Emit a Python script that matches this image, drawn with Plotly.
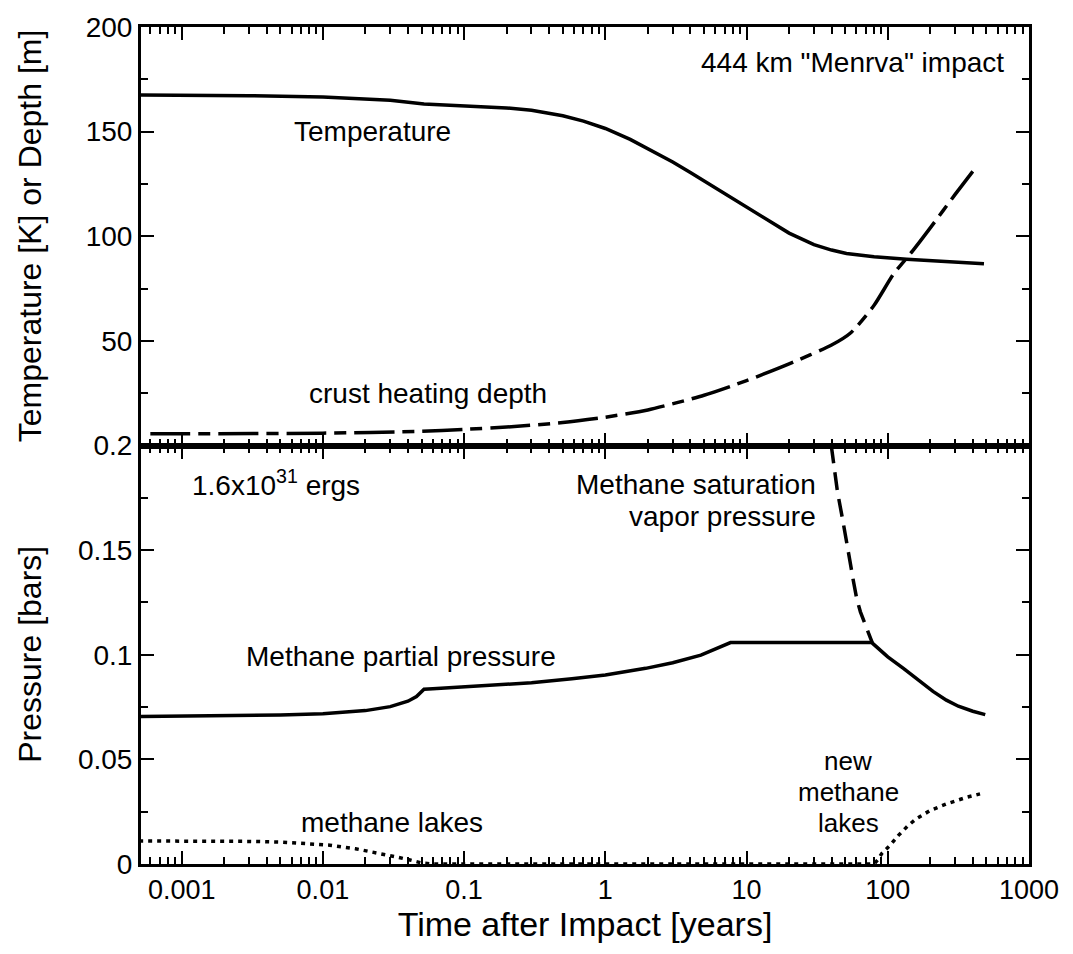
import plotly.graph_objects as go

# ---------------- data ----------------
x_tick_vals = [0.001, 0.01, 0.1, 1, 10, 100, 1000]
x_tick_text = ["0.001", "0.01", "0.1", "1", "10", "100", "1000"]

top_y_ticks = [50, 100, 150, 200]
bot_y_ticks = [0, 0.05, 0.1, 0.15, 0.2]
bot_y_text = ["0", "0.05", "0.1", "0.15", "0.2"]

# Temperature [K]
temp_t = [0.0005, 0.001, 0.003, 0.01, 0.03, 0.052, 0.1, 0.2, 0.3, 0.5, 0.7, 1, 1.5, 2, 3, 4, 5, 7,
          10, 15, 20, 30, 40, 51, 80, 136, 250, 480]
temp_v = [167.5, 167.4, 167.2, 166.5, 165.0, 163.2, 162.4, 161.3, 160.2, 157.6, 155.0, 151.5, 146.3,
          142.0, 135.5, 130.5, 126.5, 120.5, 114.0, 106.5, 101.5, 96.0, 93.4, 91.8, 90.2, 89.0, 87.8, 86.9]

# crust heating depth [m]
depth_t = [0.0006, 0.001, 0.01, 0.05, 0.1, 0.2, 0.5, 1, 2, 5, 10, 20, 40, 55, 80, 110, 150, 200, 300, 400]
depth_v = [5.6, 5.6, 5.9, 6.8, 7.7, 8.8, 11.0, 13.5, 17.0, 24.0, 31.0, 39.0, 48.0, 54.0, 67.0, 82.0,
           93.0, 104.0, 120.0, 131.0]

# Methane partial pressure [bars]
pp_t = [0.0005, 0.001, 0.002, 0.005, 0.01, 0.02, 0.03, 0.04, 0.046, 0.052, 0.06, 0.1, 0.176, 0.3, 0.58, 1,
        1.93, 3, 4.75, 6, 7.7, 77, 90, 100, 129, 160, 209, 260, 316, 400, 490]
pp_v = [0.0705, 0.0706, 0.0708, 0.0712, 0.0718, 0.0733, 0.0752, 0.0778, 0.0800, 0.0835, 0.0838, 0.0846,
        0.0856, 0.0866, 0.0885, 0.0903, 0.0935, 0.0962, 0.0998, 0.1025, 0.1058, 0.1058, 0.1018,
        0.0990, 0.0935, 0.0885, 0.0825, 0.0783, 0.0754, 0.0730, 0.0714]

# Methane saturation vapor pressure [bars]
sat_t = [39.8, 41.2, 44, 47.9, 51, 53.7, 57, 60.3, 64, 68.5, 73, 77.6]
sat_v = [0.200, 0.193, 0.178, 0.1646, 0.155, 0.1456, 0.1355, 0.1267, 0.1205, 0.1156, 0.1100, 0.1058]

# methane lakes [bars]
lake_t = [0.0005, 0.001, 0.003, 0.005, 0.008, 0.0112, 0.017, 0.0255, 0.033, 0.0414, 0.05, 0.06, 1, 80,
          85, 90.6, 104, 119, 140, 160, 200, 262, 363, 450]
lake_v = [0.011, 0.011, 0.0108, 0.0105, 0.0098, 0.009, 0.0073, 0.0051, 0.0034, 0.0019, 0.0005, 0.0,
          0.0, 0.0, 0.002, 0.005, 0.009, 0.0137, 0.0185, 0.0217, 0.0256, 0.0288, 0.0319, 0.0335]

# ---------------- figure ----------------
FONT = "Liberation Sans, Arial, Helvetica, sans-serif"
LW = 3.5

fig = go.Figure()
fig.add_trace(go.Scatter(x=temp_t, y=temp_v, mode="lines", line=dict(color="black", width=LW),
                         xaxis="x", yaxis="y", showlegend=False))
fig.add_trace(go.Scatter(x=depth_t, y=depth_v, mode="lines", line_shape="spline",
                         line=dict(color="black", width=LW, dash="40px,8px,12px,8px", smoothing=0.6),
                         xaxis="x", yaxis="y", showlegend=False))
fig.add_trace(go.Scatter(x=lake_t, y=lake_v, mode="lines",
                         line=dict(color="black", width=LW, dash="4px,5px"),
                         xaxis="x2", yaxis="y2", showlegend=False))
fig.add_trace(go.Scatter(x=sat_t, y=sat_v, mode="lines",
                         line=dict(color="black", width=LW, dash="18px,9px"),
                         xaxis="x2", yaxis="y2", showlegend=False))
fig.add_trace(go.Scatter(x=pp_t, y=pp_v, mode="lines", line=dict(color="black", width=LW),
                         xaxis="x2", yaxis="y2", showlegend=False))

xrange = [-3.288, 3.0]
common_x = dict(type="log", range=xrange, showline=True, linecolor="black", linewidth=3,
                mirror="ticks", ticks="inside", ticklen=13, tickwidth=2, tickcolor="black",
                tickmode="array", tickvals=x_tick_vals, showgrid=False, zeroline=False,
                minor=dict(ticks="inside", ticklen=7, tickwidth=2, tickcolor="black", dtick="D1",
                           showgrid=False))
common_y = dict(showline=True, linecolor="black", linewidth=3, mirror="ticks", ticks="inside",
                ticklen=13, tickwidth=2, tickcolor="black", tickmode="array", showgrid=False,
                zeroline=False, tickfont=dict(size=28))

fig.update_layout(
    width=1073, height=954,
    margin=dict(l=141, r=44, t=15, b=90),
    paper_bgcolor="white", plot_bgcolor="white",
    font=dict(family=FONT, size=28, color="black"),
    xaxis=dict(common_x, domain=[0, 1], anchor="y", showticklabels=False),
    yaxis=dict(common_y, domain=[0.5, 1], anchor="x", range=[0, 200], tickvals=top_y_ticks,
               minor=dict(ticks="inside", ticklen=7, tickwidth=2, tickcolor="black", dtick=25,
                          showgrid=False)),
    xaxis2=dict(common_x, domain=[0, 1], anchor="y2", ticktext=x_tick_text,
                tickfont=dict(size=27),
                title=dict(text="Time after Impact [years]", font=dict(size=34), standoff=6)),
    yaxis2=dict(common_y, domain=[0, 0.5], anchor="x2", range=[0, 0.2], tickvals=bot_y_ticks,
                ticktext=bot_y_text,
                minor=dict(ticks="inside", ticklen=7, tickwidth=2, tickcolor="black", dtick=0.025,
                           showgrid=False)),
)

ann = dict(showarrow=False, font=dict(family=FONT, size=28, color="black"))
small = dict(family=FONT, size=26, color="black")
annotations = [
    # y-axis titles
    dict(ann, text="Temperature [K] or Depth [m]", xref="paper", yref="paper", x=0, y=0.75,
         xanchor="center", yanchor="middle", textangle=-90, xshift=-111, font=dict(family=FONT, size=32)),
    dict(ann, text="Pressure [bars]", xref="paper", yref="paper", x=0, y=0.25,
         xanchor="center", yanchor="middle", textangle=-90, xshift=-111, font=dict(family=FONT, size=32)),
    # labels
    dict(ann, text='444 km "Menrva" impact', xref="paper", yref="paper", x=0.974, y=0.957,
         xanchor="right", yanchor="middle"),
    dict(ann, text="Temperature", xref="x", yref="y", x=-2.219, y=150.3, xanchor="left", yanchor="middle"),
    dict(ann, text="crust heating depth", xref="x", yref="y", x=-2.112, y=24.7, xanchor="left", yanchor="middle"),
    dict(ann, text="1.6x10<sup>31</sup> ergs", xref="x2", yref="y2", x=-2.94, y=0.182,
         xanchor="left", yanchor="middle"),
    dict(ann, text="Methane saturation", xref="x2", yref="y2", x=1.506, y=0.1815,
         xanchor="right", yanchor="middle"),
    dict(ann, text="vapor pressure", xref="x2", yref="y2", x=1.506, y=0.166,
         xanchor="right", yanchor="middle"),
    dict(ann, text="Methane partial pressure", xref="x2", yref="y2", x=-0.335, y=0.099,
         xanchor="right", yanchor="middle"),
    dict(ann, text="methane lakes", xref="x2", yref="y2", x=-0.852, y=0.02,
         xanchor="right", yanchor="middle"),
    dict(ann, text="new", xref="x2", yref="y2", x=1.72, y=0.049, xanchor="center", yanchor="middle", font=small),
    dict(ann, text="methane", xref="x2", yref="y2", x=1.72, y=0.0343, xanchor="center", yanchor="middle", font=small),
    dict(ann, text="lakes", xref="x2", yref="y2", x=1.72, y=0.0196, xanchor="center", yanchor="middle", font=small),
]
fig.update_layout(annotations=annotations)

fig.write_html("out.html")
